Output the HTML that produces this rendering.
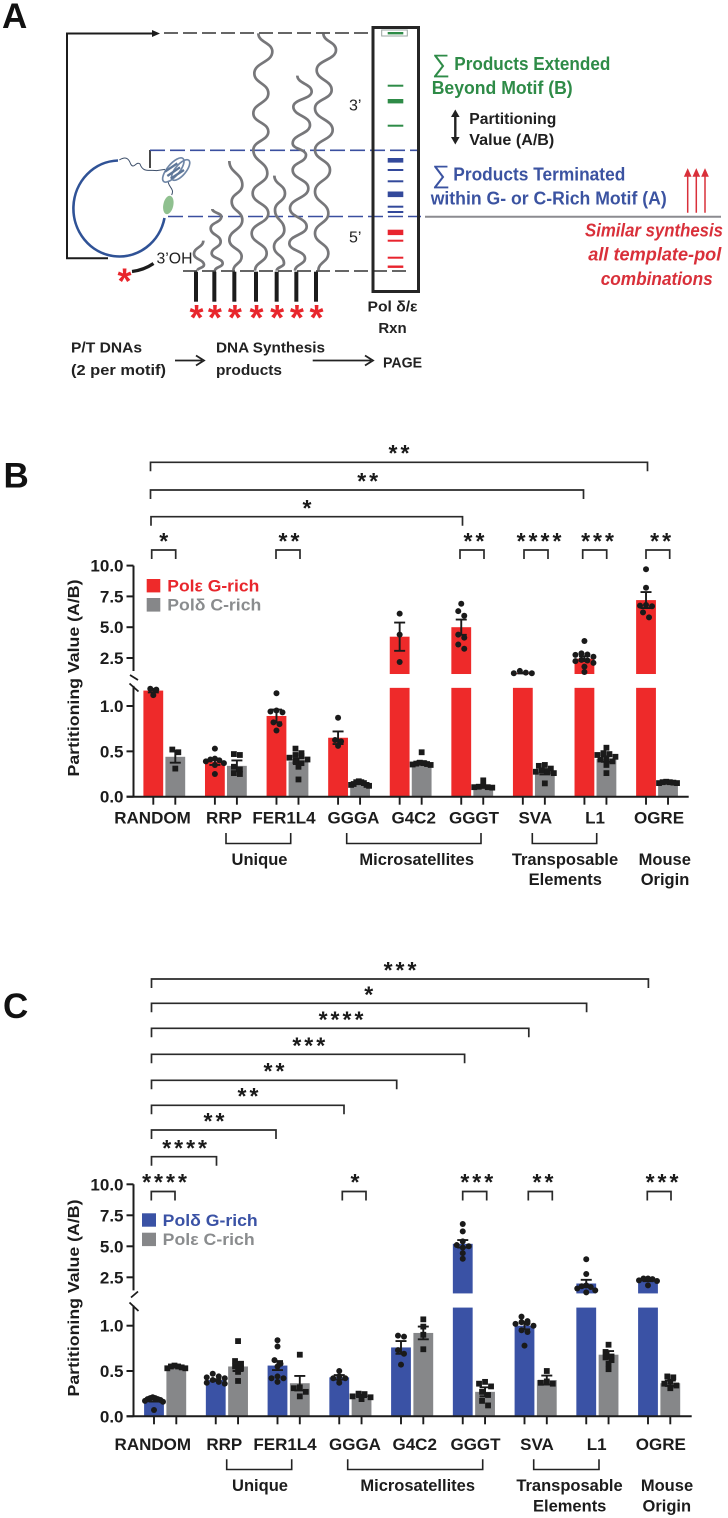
<!DOCTYPE html>
<html lang="en">
<head>
<meta charset="utf-8">
<title>Partitioning value figure</title>
<style>
html,body{margin:0;padding:0;background:#fff;}
svg{display:block;}
text{font-family:"Liberation Sans",sans-serif;}
.b{font-weight:700;}
.axl{font-weight:700;font-size:17px;fill:#1c1c1c;text-anchor:middle;}
.grp{font-weight:700;font-size:16.5px;fill:#1c1c1c;text-anchor:middle;}
.panel{font-weight:700;font-size:35px;fill:#111;}
.dia{font-weight:700;font-size:15px;fill:#222;}
</style>
</head>
<body>
<svg id="fig" xmlns="http://www.w3.org/2000/svg" width="728" height="1518" viewBox="0 0 728 1518">
<rect width="728" height="1518" fill="#fff"/>

<text class="panel" x="2" y="28">A</text>
<text class="panel" x="3.5" y="487.5">B</text>
<text class="panel" x="3" y="1018">C</text>

<!-- Panel A -->
<g id="panelA">
  <path d="M108 258.3H67V33.5H155" fill="none" stroke="#1c1c1c" stroke-width="2"/>
  <path d="M160 33.5L152 30V37Z" fill="#1c1c1c"/>
  <path d="M164 33H374" stroke="#333" stroke-width="1.6" stroke-dasharray="14 5" fill="none"/>
  <path d="M150 168V150" stroke="#1c1c1c" stroke-width="1.6" fill="none"/>
  <path d="M150 150.3H420" stroke="#3a4f9f" stroke-width="1.6" stroke-dasharray="15 5" fill="none"/>
  <path d="M168 216.5H421" stroke="#3a4f9f" stroke-width="1.6" stroke-dasharray="15 5" fill="none"/>
  <path d="M425 216.7H721" stroke="#8b8b90" stroke-width="2" fill="none"/>
  <path d="M183 271H409" stroke="#333" stroke-width="1.6" stroke-dasharray="14 5" fill="none"/>
  <path d="M118 160.5A46 48 0 1 0 164.5 218" fill="none" stroke="#2f5296" stroke-width="2.6"/>
  <g transform="translate(60,140) scale(.3333)">
    <path d="M178 60C195 50 205 52 212 72C222 90 228 62 240 72C250 100 270 88 290 92L315 88M325 122C322 140 345 145 335 165" fill="none" stroke="#3d4f6a" stroke-width="3"/>
    <ellipse cx="340" cy="90" rx="18" ry="45" transform="rotate(40 340 90)" fill="none" stroke="#6f86a6" stroke-width="5"/>
    <ellipse cx="362" cy="90" rx="16" ry="38" transform="rotate(40 362 90)" fill="none" stroke="#6f86a6" stroke-width="5"/>
    <path d="M315 95L352 70M322 108L360 82M332 116L372 90" stroke="#5d7698" stroke-width="7" fill="none"/>
    <ellipse cx="325" cy="195" rx="15" ry="28" transform="rotate(12 325 195)" fill="#8fc08f"/>
  </g>
  <path d="M132 271.5Q144 270 153.5 263.5" fill="none" stroke="#1c1c1c" stroke-width="3.2"/>
  <text class="b" x="124.5" y="293.5" font-size="36" fill="#e8262c" text-anchor="middle">*</text>
  <text x="156.5" y="263.5" font-size="15.5" fill="#222" textLength="36" lengthAdjust="spacingAndGlyphs">3’OH</text>
  <g id="waves"></g>
  <g id="stems"></g>
  <text x="349" y="110.7" font-size="16" fill="#222">3’</text>
  <text x="349" y="242.7" font-size="16" fill="#222">5’</text>

  <rect x="373" y="27.5" width="45.5" height="264" fill="none" stroke="#262626" stroke-width="3"/>
  <rect x="381.7" y="30" width="25.6" height="6" fill="#fff" stroke="#9aa5a0" stroke-width="1"/>
  <rect x="387.7" y="32" width="15.6" height="2.4" fill="#2e8b47"/>
  <g fill="#2e8b47">
    <rect x="387.7" y="84.7" width="15.6" height="2"/>
    <rect x="387.7" y="99" width="15.6" height="4.4"/>
    <rect x="387.7" y="124.7" width="15.6" height="2"/>
  </g>
  <g fill="#33499b">
    <rect x="387.7" y="158" width="15.6" height="4.6"/>
    <rect x="387.7" y="169" width="15.6" height="2"/>
    <rect x="387.7" y="180.3" width="15.6" height="2"/>
    <rect x="387.7" y="191.5" width="15.6" height="5.6"/>
    <rect x="387.7" y="205.7" width="15.6" height="2"/>
    <rect x="387.7" y="211" width="15.6" height="2"/>
  </g>
  <g fill="#e8242e">
    <rect x="387.7" y="229.7" width="15.6" height="5.4"/>
    <rect x="387.7" y="239.7" width="15.6" height="2"/>
    <rect x="387.7" y="256.7" width="15.6" height="2"/>
    <rect x="387.7" y="265.5" width="15.6" height="2.4"/>
  </g>

  <text class="dia" x="392.5" y="311.7" text-anchor="middle" textLength="50" lengthAdjust="spacingAndGlyphs">Pol δ/ε</text>
  <text class="dia" x="392.5" y="333" text-anchor="middle">Rxn</text>
  <text class="dia" x="71" y="352.7" textLength="71" lengthAdjust="spacingAndGlyphs">P/T DNAs</text>
  <text class="dia" x="71" y="375" textLength="95" lengthAdjust="spacingAndGlyphs">(2 per motif)</text>
  <path d="M175 360.5H202M196 355.5L204 360.5L196 365.5" fill="none" stroke="#222" stroke-width="1.8"/>
  <text class="dia" x="216" y="352.7" textLength="109" lengthAdjust="spacingAndGlyphs">DNA Synthesis</text>
  <text class="dia" x="216" y="375" textLength="66" lengthAdjust="spacingAndGlyphs">products</text>
  <path d="M312.7 360.5H371M365 355.5L373 360.5L365 365.5" fill="none" stroke="#222" stroke-width="1.8"/>
  <text class="dia" x="383" y="367.3" textLength="39" lengthAdjust="spacingAndGlyphs">PAGE</text>

  <text x="432" y="72" font-size="25" fill="#2e8b47">∑</text>
  <text class="b" x="454.3" y="70" font-size="18" fill="#2e8b47" textLength="156" lengthAdjust="spacingAndGlyphs">Products Extended</text>
  <text class="b" x="431.7" y="94" font-size="18" fill="#2e8b47" textLength="141" lengthAdjust="spacingAndGlyphs">Beyond Motif (B)</text>
  <text class="b" x="469.3" y="124" font-size="16" fill="#1f1f1f" textLength="87" lengthAdjust="spacingAndGlyphs">Partitioning</text>
  <text class="b" x="469.3" y="145" font-size="16" fill="#1f1f1f" textLength="85" lengthAdjust="spacingAndGlyphs">Value (A/B)</text>
  <path d="M455.3 114V140" stroke="#222" stroke-width="2.4" fill="none"/>
  <path d="M455.3 109.5L451 117H459.6Z" fill="#222"/>
  <path d="M455.3 144.5L451 137H459.6Z" fill="#222"/>
  <text x="432" y="183" font-size="25" fill="#3b53a1">∑</text>
  <text class="b" x="453.3" y="180.7" font-size="18" fill="#3b53a1" textLength="172" lengthAdjust="spacingAndGlyphs">Products Terminated</text>
  <text class="b" x="430.7" y="204.3" font-size="18" fill="#3b53a1" textLength="236" lengthAdjust="spacingAndGlyphs">within G- or C-Rich Motif (A)</text>
  <g stroke="#d9303a" stroke-width="1.5" fill="#d9303a">
    <path d="M687.7 212.7V172M685 176L687.7 170L690.4 176Z"/>
    <path d="M696.3 212.7V172M693.6 176L696.3 170L699 176Z"/>
    <path d="M705 212.7V172M702.3 176L705 170L707.7 176Z"/>
  </g>
  <text class="b" x="585" y="236.7" font-size="18" font-style="italic" fill="#d9303a" textLength="138" lengthAdjust="spacingAndGlyphs">Similar synthesis</text>
  <text class="b" x="588.3" y="260.7" font-size="18" font-style="italic" fill="#d9303a" textLength="133" lengthAdjust="spacingAndGlyphs">all template-pol</text>
  <text class="b" x="600.7" y="285" font-size="18" font-style="italic" fill="#d9303a" textLength="112" lengthAdjust="spacingAndGlyphs">combinations</text>
</g>

<!-- Panel B static labels -->
<g>
  <text class="axl" x="152.5" y="823.5">RANDOM</text>
  <text class="axl" x="224" y="823.5">RRP</text>
  <text class="axl" x="284" y="823.5">FER1L4</text>
  <text class="axl" x="353.5" y="823.5">GGGA</text>
  <text class="axl" x="413.7" y="823.5">G4C2</text>
  <text class="axl" x="474" y="823.5">GGGT</text>
  <text class="axl" x="535.3" y="823.5">SVA</text>
  <text class="axl" x="595" y="823.5">L1</text>
  <text class="axl" x="659" y="823.5">OGRE</text>
  <path d="M226 833V843.5H290.7V833" fill="none" stroke="#222" stroke-width="1.6"/>
  <path d="M346.7 833V843.5H481V833" fill="none" stroke="#222" stroke-width="1.6"/>
  <path d="M532.3 833V843.5H596.7V833" fill="none" stroke="#222" stroke-width="1.6"/>
  <text class="grp" x="259.5" y="865">Unique</text>
  <text class="grp" x="416.7" y="865">Microsatellites</text>
  <text class="grp" x="565" y="865">Transposable</text>
  <text class="grp" x="565.3" y="885">Elements</text>
  <text class="grp" x="664.8" y="865">Mouse</text>
  <text class="grp" x="665" y="885">Origin</text>
  <text class="b" transform="translate(79,678) rotate(-90)" text-anchor="middle" font-size="16" fill="#1c1c1c" textLength="197" lengthAdjust="spacingAndGlyphs">Partitioning Value (A/B)</text>
  <rect x="146.7" y="579" width="13.6" height="13.4" fill="#ee2a2a"/>
  <text class="b" x="167.3" y="591.7" font-size="17" fill="#e8262c" textLength="92" lengthAdjust="spacingAndGlyphs">Polε G-rich</text>
  <rect x="146.7" y="598" width="13.6" height="13.6" fill="#868789"/>
  <text class="b" x="167.3" y="610.7" font-size="17" fill="#8a8c8e" textLength="94" lengthAdjust="spacingAndGlyphs">Polδ C-rich</text>
</g>

<!-- Panel C static labels -->
<g>
  <text class="axl" x="152.8" y="1450">RANDOM</text>
  <text class="axl" x="224.3" y="1450">RRP</text>
  <text class="axl" x="285" y="1450">FER1L4</text>
  <text class="axl" x="355" y="1450">GGGA</text>
  <text class="axl" x="414.7" y="1450">G4C2</text>
  <text class="axl" x="475.5" y="1450">GGGT</text>
  <text class="axl" x="537" y="1450">SVA</text>
  <text class="axl" x="596.7" y="1450">L1</text>
  <text class="axl" x="660.8" y="1450">OGRE</text>
  <path d="M226.7 1459.3V1469.5H291.7V1459.3" fill="none" stroke="#222" stroke-width="1.6"/>
  <path d="M347.7 1459.3V1469.5H482.7V1459.3" fill="none" stroke="#222" stroke-width="1.6"/>
  <path d="M533.7 1459.3V1469.5H599V1459.3" fill="none" stroke="#222" stroke-width="1.6"/>
  <text class="grp" x="260" y="1491">Unique</text>
  <text class="grp" x="417.7" y="1491">Microsatellites</text>
  <text class="grp" x="569.5" y="1491">Transposable</text>
  <text class="grp" x="569.7" y="1511.5">Elements</text>
  <text class="grp" x="667" y="1491">Mouse</text>
  <text class="grp" x="666.8" y="1511.5">Origin</text>
  <text class="b" transform="translate(79,1298) rotate(-90)" text-anchor="middle" font-size="16" fill="#1c1c1c" textLength="197" lengthAdjust="spacingAndGlyphs">Partitioning Value (A/B)</text>
  <rect x="142" y="1213.3" width="14" height="13.4" fill="#3a52a5"/>
  <text class="b" x="162.7" y="1226" font-size="17" fill="#3a52a5" textLength="95" lengthAdjust="spacingAndGlyphs">Polδ G-rich</text>
  <rect x="142" y="1232.7" width="14" height="13.4" fill="#868789"/>
  <text class="b" x="162.7" y="1245" font-size="17" fill="#8a8c8e" textLength="92" lengthAdjust="spacingAndGlyphs">Polε C-rich</text>
</g>

<g id="chartB"></g>
<g id="chartC"></g>
<g id="sigB"></g>
<g id="sigC"></g>
</svg>

<script>
// ---------- chart data ----------
const categories = ["RANDOM","RRP","FER1L4","GGGA","G4C2","GGGT","SVA","L1","OGRE"];
const lowerTicks = [0, 0.5, 1.0];
const upperTicks = [2.5, 5.0, 7.5, 10.0];

// Panel B: Pol epsilon G-rich / Pol delta C-rich
const bMeanG = [1.17, 0.385, 0.89, 0.65, 4.23, 5.0, 1.28, 2.45, 7.2];
const bSemG  = [0.02, 0.035, 0.07, 0.07, 1.15, 0.62, 0.03, 0.2, 0.65];
const bMeanC = [0.44, 0.34, 0.39, 0.155, 0.375, 0.11, 0.275, 0.415, 0.15];
const bSemC  = [0.065, 0.06, 0.03, 0.01, 0.015, 0.012, 0.03, 0.03, 0.005];
const bPointsG = [
  [1.19,1.18,1.12],
  [0.53,0.42,0.41,0.40,0.39,0.37,0.35,0.25],
  [1.14,0.95,0.94,0.93,0.82,0.80,0.73],
  [0.87,0.625,0.61,0.56],
  [6.1,4.4,2.18],
  [6.9,6.3,5.93,4.4,4.15,3.6,3.25],
  [1.45,1.31,1.26,1.26],
  [3.88,2.88,2.78,2.75,2.6,2.35,2.3,2.25,2.1,1.8,1.36],
  [9.7,8.2,6.8,6.75,6.7,6.2,5.8]
];
const bPointsC = [
  [0.52,0.49,0.31],
  [0.47,0.46,0.33,0.30,0.26,0.25],
  [0.53,0.48,0.46,0.45,0.43,0.41,0.39,0.37,0.33,0.19],
  [0.17,0.16,0.16,0.15,0.14,0.13,0.13,0.12],
  [0.49,0.375,0.37,0.365,0.36,0.355,0.35],
  [0.18,0.12,0.11,0.105,0.105,0.10],
  [0.35,0.34,0.31,0.29,0.28,0.275,0.26,0.147],
  [0.54,0.48,0.47,0.46,0.44,0.42,0.41,0.39,0.35,0.26],
  [0.165,0.16,0.16,0.155,0.15,0.15]
];

// Panel C: Pol delta G-rich / Pol epsilon C-rich
const cMeanG = [0.175, 0.40, 0.56, 0.43, 0.76, 5.2, 1.0, 2.0, 2.28];
const cSemG  = [0.012, 0.01, 0.05, 0.025, 0.07, 0.3, 0.04, 0.3, 0.09];
const cMeanC = [0.55, 0.55, 0.365, 0.225, 0.92, 0.27, 0.40, 0.68, 0.365];
const cSemC  = [0.01, 0.05, 0.08, 0.012, 0.07, 0.05, 0.05, 0.04, 0.03];
const cPointsG = [
  [0.21,0.20,0.20,0.19,0.19,0.18,0.17,0.16,0.07],
  [0.47,0.44,0.43,0.42,0.40,0.38,0.37,0.36],
  [0.84,0.77,0.62,0.58,0.55,0.44,0.42,0.42,0.38],
  [0.50,0.44,0.42,0.42,0.37],
  [0.89,0.88,0.73,0.69,0.57],
  [6.8,6.2,5.4,5.1,5.0,4.9,4.45,4.0],
  [1.10,1.05,1.04,1.03,1.02,1.0,0.95,0.93,0.78],
  [3.96,2.77,1.85,1.78,1.72,1.6,1.45,1.28],
  [2.4,2.4,2.35,2.25,2.2,1.85]
];
const cPointsC = [
  [0.56,0.55,0.55,0.54,0.53,0.53],
  [0.83,0.61,0.58,0.55,0.53,0.49,0.39],
  [0.68,0.32,0.31,0.27,0.22],
  [0.25,0.245,0.22,0.21,0.19],
  [1.07,0.99,0.90,0.74],
  [0.38,0.36,0.33,0.27,0.235,0.17,0.12],
  [0.50,0.385,0.37,0.36],
  [0.79,0.71,0.66,0.65,0.62,0.58,0.52],
  [0.44,0.43,0.38,0.36,0.34,0.31]
];

// ---------- helpers ----------
const NS = "http://www.w3.org/2000/svg";
function mk(tag, parent, attrs) {
  const n = document.createElementNS(NS, tag);
  for (const k in attrs) n.setAttribute(k, attrs[k]);
  parent.appendChild(n);
  return n;
}

function makeY(cfg) {
  return function (v) {
    if (v <= cfg.breakValue) return cfg.base - v * cfg.lowerPerUnit;
    return cfg.upperRef - (v - 2.5) * cfg.upperPerUnit;
  };
}

function spreadPoints(values, y) {
  const sorted = values.slice().sort(function (a, b) { return b - a; });
  const out = [];
  let i = 0;
  while (i < sorted.length) {
    const start = y(sorted[i]);
    const bin = [];
    while (i < sorted.length && Math.abs(y(sorted[i]) - start) < 5) { bin.push(sorted[i]); i++; }
    const n = bin.length;
    const gap = n > 1 ? Math.min(6, 18 / (n - 1)) : 0;
    const order = [];
    for (let k = 0; k < n; k++) order.push((k - (n - 1) / 2) * gap);
    order.sort(function (a, b) { return Math.abs(a) - Math.abs(b); });
    bin.forEach(function (val, k) { out.push({ v: val, dx: order[k] }); });
  }
  return out;
}

function drawSeries(g, cfg, y, means, sems, points, color, offset, shape, tag) {
  means.forEach(function (m, i) {
    const cat = categories[i].toLowerCase();
    const cx = cfg.x0 + i * cfg.step + offset;
    const left = cx - cfg.barW / 2;
    const lowTop = y(Math.min(m, cfg.breakValue));
    const lowBar = mk("rect", g, { x: left, y: lowTop, width: cfg.barW, height: cfg.base - lowTop, fill: color });
    
    
    if (m > cfg.breakValue) {
      const upBottom = cfg.upperRef + (2.5 - cfg.breakValue) * cfg.upperPerUnit;
      const upBar = mk("rect", g, { x: left, y: y(m), width: cfg.barW, height: upBottom - y(m), fill: color });
      
      
    }
    const s = sems[i];
    const t = y(m + s), b = y(m - s);
    const err = mk("path", g, {
      d: "M" + (cx - 5.5) + " " + t + "H" + (cx + 5.5) + "M" + cx + " " + t + "V" + b + "M" + (cx - 5.5) + " " + b + "H" + (cx + 5.5),
      stroke: "#1a1a1a", "stroke-width": 1.9, fill: "none"
    });
    
    
    spreadPoints(points[i], y).forEach(function (p) {
      let dot;
      if (shape === "circle") {
        dot = mk("circle", g, { cx: cx + p.dx, cy: y(p.v), r: 3, fill: "#1a1a1a" });
      } else {
        dot = mk("rect", g, { x: cx + p.dx - 2.9, y: y(p.v) - 2.9, width: 5.8, height: 5.8, fill: "#1a1a1a" });
      }
      
      
    });
    const tick = mk("path", g, { d: "M" + cx + " " + cfg.base + "V" + (cfg.base + 8), stroke: "#1c1c1c", "stroke-width": 1.9, fill: "none" });
    
    
  });
}

function drawAxes(g, cfg, y) {
  const upBottom = cfg.upperRef + (2.5 - cfg.breakValue) * cfg.upperPerUnit;
  const ax = cfg.axisX;
  const yAxis = mk("path", g, {
    d: "M" + ax + " " + y(10) + "V" + (upBottom - 3) + "M" + ax + " " + (y(cfg.breakValue) - 2) + "V" + cfg.base,
    stroke: "#1c1c1c", "stroke-width": 2, fill: "none"
  });
  
  
  const xAxis = mk("path", g, { d: "M" + (ax - 7) + " " + cfg.base + "H" + cfg.axisEnd, stroke: "#1c1c1c", "stroke-width": 2, fill: "none" });
  
  
  const br = mk("path", g, { d: cfg.breakMarks, stroke: "#1c1c1c", "stroke-width": 1.8, fill: "none" });
  
  
  lowerTicks.concat(upperTicks).forEach(function (v) {
    const ty = y(v);
    const t = mk("path", g, { d: "M" + (ax - 7) + " " + ty + "H" + ax, stroke: "#1c1c1c", "stroke-width": 2, fill: "none" });
    
    
    const lab = mk("text", g, { x: ax - 10, y: ty + 6, "text-anchor": "end", "font-size": 17, "font-weight": 700, fill: "#1c1c1c" });
    lab.textContent = v.toFixed(1);
    
    
  });
}

function drawChart(g, cfg, meanG, semG, ptsG, meanC, semC, ptsC) {
  const y = makeY(cfg);
  drawSeries(g, cfg, y, meanG, semG, ptsG, cfg.colorG, 0, "circle", "g-rich");
  drawSeries(g, cfg, y, meanC, semC, ptsC, "#868789", cfg.offset, "square", "c-rich");
  drawAxes(g, cfg, y);
}

const cfgB = { base: 796.7, lowerPerUnit: 90.7, upperRef: 658, upperPerUnit: 12.32, breakValue: 1.2,
  x0: 153.3, step: 61.59, offset: 22, barW: 19.8, axisX: 133.5, axisEnd: 688.7, colorG: "#ee2a2a",
  breakMarks: "M130 675L138 680M129.5 683.5L138.5 691.5" };
const cfgC = { base: 1416.3, lowerPerUnit: 90.6, upperRef: 1277.3, upperPerUnit: 12.4, breakValue: 1.2,
  x0: 154, step: 61.75, offset: 22.3, barW: 19.8, axisX: 133.5, axisEnd: 691.7, colorG: "#3a52a5",
  breakMarks: "M131 1297.5L138 1291.5M129.5 1302.5L138.5 1311" };

drawChart(document.getElementById("chartB"), cfgB, bMeanG, bSemG, bPointsG, bMeanC, bSemC, bPointsC);
drawChart(document.getElementById("chartC"), cfgC, cMeanG, cSemG, cPointsG, cMeanC, cSemC, cPointsC);

// ---------- significance brackets ----------
function sig(parent, x1, x2, y, label, lx, ly) {
  const p = mk("path", parent, { d: "M" + x1 + " " + (y + 9) + "V" + y + "H" + x2 + "V" + (y + 9), stroke: "#2a2a2a", "stroke-width": 1.7, fill: "none" });
  
  
  const t = mk("text", parent, { x: lx + 1.5, y: ly + 10.8, "text-anchor": "middle", "font-size": 23, "font-weight": 700, "letter-spacing": 3, fill: "#1a1a1a" });
  t.textContent = label;
  
  
}
const sB = document.getElementById("sigB");
sig(sB, 150.5, 647.5, 462.3, "**", 399, 450.3);
sig(sB, 150.5, 583.5, 490, "**", 367.7, 478.3);
sig(sB, 151, 462.5, 516.7, "*", 307, 505);
sig(sB, 151.7, 175.7, 550, "*", 163.7, 538.3);
sig(sB, 276, 300, 550, "**", 289, 538.3);
sig(sB, 460, 484, 550, "**", 474, 538.3);
sig(sB, 524, 548, 550, "****", 539, 538.3);
sig(sB, 582.7, 606.7, 550, "***", 597.5, 538.3);
sig(sB, 646, 669.7, 550, "**", 660.6, 538.3);

const sC = document.getElementById("sigC");
sig(sC, 151.5, 648.4, 979, "***", 400, 967.3);
sig(sC, 151.5, 586.6, 1003.3, "*", 368.7, 991.7);
sig(sC, 151.5, 528.8, 1028.3, "****", 341, 1016.7);
sig(sC, 151.5, 464.6, 1054.3, "***", 308.8, 1042.7);
sig(sC, 151.5, 396.7, 1080.3, "**", 274, 1068.3);
sig(sC, 151.5, 344, 1105.3, "**", 248, 1093.3);
sig(sC, 151.5, 276, 1130, "**", 214, 1118.3);
sig(sC, 151.5, 216.5, 1156.7, "****", 184.6, 1145);
sig(sC, 151.3, 175, 1191.5, "****", 164.5, 1179.3);
sig(sC, 342.3, 366, 1191.5, "*", 355, 1179.3);
sig(sC, 462.7, 486.7, 1191.5, "***", 476.8, 1179.3);
sig(sC, 528.3, 552.3, 1191.5, "**", 543, 1179.3);
sig(sC, 647.3, 671, 1191.5, "***", 662, 1179.3);

// ---------- schematic squiggles (turning points) ----------
const strands = [
  [[610,722],[582,762],[612,795],[592,812]],
  [[637,627],[664,650],[632,685],[662,725],[635,760],[668,790],[645,812]],
  [[688,483],[727,555],[695,605],[727,660],[688,720],[725,770],[700,812]],
  [[775,100],[817,155],[763,220],[805,280],[760,340],[805,395],[760,450],[802,520],[758,580],[805,640],[755,700],[800,760],[765,812]],
  [[823,527],[855,580],[825,630],[853,690],[822,740],[852,790],[830,812]],
  [[892,227],[935,275],[880,320],[930,375],[878,430],[918,465],[878,510],[925,565],[870,625],[920,680],[868,730],[915,775],[885,812]],
  [[970,100],[1008,150],[950,210],[995,270],[945,325],[998,390],[945,450],[990,510],[945,575],[985,640],[945,700],[985,760],[955,812]]
];
const wavesG = document.getElementById("waves");
strands.forEach(function (pts) {
  let d = "M" + pts[0][0] / 3 + " " + pts[0][1] / 3;
  for (let i = 1; i < pts.length; i++) {
    const a = pts[i - 1], b = pts[i], my = (a[1] + b[1]) / 2;
    d += "C" + a[0] / 3 + " " + my / 3 + " " + b[0] / 3 + " " + my / 3 + " " + b[0] / 3 + " " + b[1] / 3;
  }
  const w = mk("path", wavesG, { d: d, fill: "none", stroke: "#77777a", "stroke-width": 2.7 });
  
  
});
const stemXs = [588, 643, 703, 768, 830, 889, 948];
const stemsG = document.getElementById("stems");
stemXs.forEach(function (sx) {
  const r = mk("rect", stemsG, { x: sx / 3 - 2, y: 271.7, width: 4, height: 30, fill: "#1c1c1c" });
  
  
  const st = mk("text", stemsG, { x: sx / 3 + 0.5, y: 330, "text-anchor": "middle", "font-size": 36, "font-weight": 700, fill: "#e8262c" });
  st.textContent = "*";
  
  
});
</script>
</body>
</html>
